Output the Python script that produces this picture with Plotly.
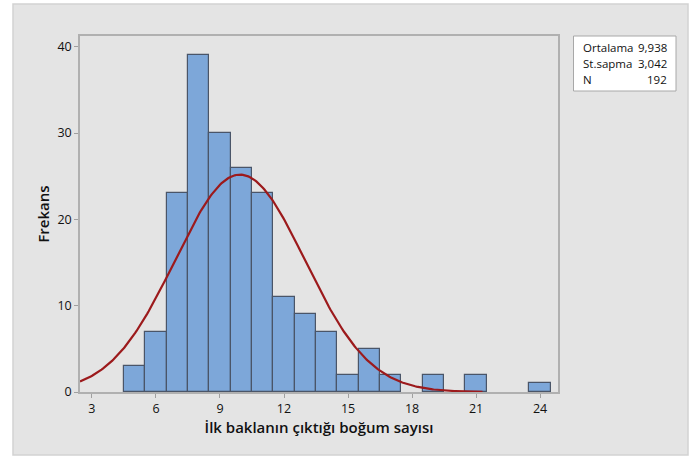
import numpy as np
import plotly.graph_objects as go

# Data
bin_centers = [5, 6, 7, 8, 9, 10, 11, 12, 13, 14, 15, 16, 17, 18, 19, 20, 21, 22, 23, 24]
frequencies = [3, 7, 23, 39, 30, 26, 23, 11, 9, 7, 2, 5, 2, 0, 2, 0, 2, 0, 0, 1]
mean_val = 9.938
sd_val = 3.042
n_val = 192
stat_labels = ["Ortalama", "St.sapma", "N"]
stat_values = ["9,938", "3,042", "192"]
x_ticks = [3, 6, 9, 12, 15, 18, 21, 24]
y_ticks = [0, 10, 20, 30, 40]

xs = [c for c, f in zip(bin_centers, frequencies) if f > 0]
ys = [f for f in frequencies if f > 0]

curve_x = np.linspace(2.44, 21.3, 300)
curve_y = n_val * 1.0 * np.exp(-0.5 * ((curve_x - mean_val) / sd_val) ** 2) / (sd_val * np.sqrt(2 * np.pi))

W, H = 696, 458
L, R, T, B = 80, 558, 36, 392

def px(x):
    return (x - L) / (R - L)

def py(y):
    return (B - y) / (B - T)

font_family = "Open Sans, Noto Sans, sans-serif"

fig = go.Figure()
fig.add_trace(go.Bar(
    x=xs, y=ys, width=1,
    marker=dict(color="#7da7d9", line=dict(color="#4a5568", width=1.2)),
    hoverinfo="x+y", showlegend=False,
))
fig.add_trace(go.Scatter(
    x=curve_x, y=curve_y, mode="lines",
    line=dict(color="#9c1a1c", width=2.2), showlegend=False,
))

shapes = [
    dict(type="rect", xref="paper", yref="paper", x0=px(13), x1=px(688), y0=py(455), y1=py(4),
         fillcolor="#e4e4e4", line=dict(color="#d2d2d2", width=1.5), layer="below"),
    dict(type="rect", xref="paper", yref="paper", x0=px(573.5), x1=px(676), y0=py(91), y1=py(36),
         fillcolor="white", line=dict(color="#a8a8a8", width=1), layer="above"),
]

annotations = []
line_y = [48, 64, 80]
for lab, val, yy in zip(stat_labels, stat_values, line_y):
    annotations.append(dict(xref="paper", yref="paper", x=px(580.5), y=py(yy), text=lab,
                            showarrow=False, xanchor="left", yanchor="middle",
                            font=dict(family=font_family, size=11.5, color="#111")))
    annotations.append(dict(xref="paper", yref="paper", x=px(668.5), y=py(yy), text=val,
                            showarrow=False, xanchor="right", yanchor="middle",
                            font=dict(family=font_family, size=11.5, color="#111")))

fig.update_layout(
    width=W, height=H,
    margin=dict(l=L, r=W - R, t=T, b=H - B, pad=0),
    paper_bgcolor="white", plot_bgcolor="white",
    shapes=shapes, annotations=annotations,
    bargap=0,
    font=dict(family=font_family, color="#111"),
    xaxis=dict(
        range=[2.44, 24.84], tickvals=x_ticks, ticks="outside", ticklen=4, tickcolor="#a0a0a0",
        showline=True, linecolor="#b0b0b0", linewidth=1.5, mirror=True, showgrid=False, zeroline=False,
        tickfont=dict(size=12.5, color="#111"),
        title=dict(text="İlk baklanın çıktığı boğum sayısı", standoff=6,
                   font=dict(size=15, family=font_family, weight=600, color="#111")),
    ),
    yaxis=dict(
        range=[0, 41.24], tickvals=y_ticks, ticks="outside", ticklen=4, tickcolor="#a0a0a0",
        showline=True, linecolor="#b0b0b0", linewidth=1.5, mirror=True, showgrid=False, zeroline=False,
        tickfont=dict(size=12.5, color="#111"),
        title=dict(text="Frekans", standoff=4,
                   font=dict(size=15, family=font_family, weight=600, color="#111")),
    ),
)

fig.write_html("out.html")
